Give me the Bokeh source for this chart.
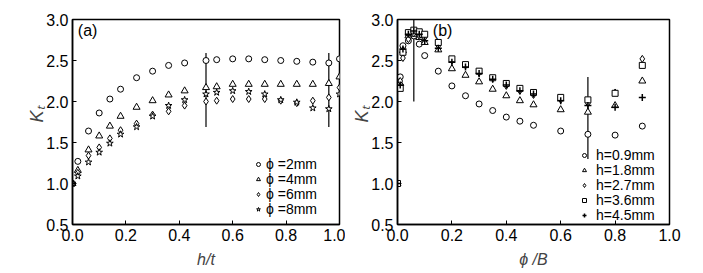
import math
from bokeh.plotting import figure
from bokeh.layouts import row
from bokeh.models import Legend, LegendItem, Label, FixedTicker, NumeralTickFormatter
from bokeh.embed import file_html
from bokeh.resources import INLINE

# ---- panel (a) data ----
ht = [0, 0.02, 0.06, 0.1, 0.14, 0.18, 0.24, 0.3, 0.36, 0.42, 0.5, 0.54, 0.6, 0.66, 0.72, 0.78, 0.84, 0.9, 0.96, 1.0]
kt_phi2 = [1.0, 1.27, 1.64, 1.86, 2.03, 2.15, 2.29, 2.37, 2.44, 2.47, 2.50, 2.51, 2.52, 2.52, 2.51, 2.50, 2.49, 2.48, 2.47, 2.52]
kt_phi4 = [1.0, 1.16, 1.41, 1.58, 1.70, 1.82, 1.93, 2.01, 2.08, 2.13, 2.17, 2.18, 2.21, 2.21, 2.21, 2.21, 2.21, 2.21, 2.22, 2.30]
kt_phi6 = [1.0, 1.13, 1.34, 1.44, 1.55, 1.65, 1.73, 1.84, 1.88, 1.95, 2.00, 2.01, 2.03, 2.03, 2.03, 2.01, 1.98, 2.01, 2.05, 2.17]
kt_phi8 = [1.0, 1.09, 1.26, 1.38, 1.49, 1.60, 1.69, 1.82, 1.95, 2.02, 2.09, 2.11, 2.13, 2.12, 2.09, 2.02, 1.99, 1.92, 1.91, 2.09]
labels_a = ["\u03d5 =2mm", "\u03d5 =4mm", "\u03d5 =6mm", "\u03d5 =8mm"]
bar_a_x = [0.5, 0.96]
bar_a_lo = [1.69, 1.69]
bar_a_hi = [2.59, 2.59]

# ---- panel (b) data ----
pb = [0, 0.01, 0.02, 0.04, 0.06, 0.08, 0.1, 0.15, 0.2, 0.25, 0.3, 0.35, 0.4, 0.45, 0.5, 0.6, 0.7, 0.8, 0.9]
kt_h09 = [1.0, 2.30, 2.68, 2.74, 2.80, 2.70, 2.56, 2.37, 2.19, 2.07, 1.97, 1.89, 1.81, 1.76, 1.71, 1.64, 1.60, 1.59, 1.70]
kt_h18 = [1.0, 2.22, 2.62, 2.80, 2.82, 2.78, 2.72, 2.63, 2.40, 2.32, 2.24, 2.15, 2.07, 2.01, 1.96, 1.90, 1.87, 1.95, 2.25]
kt_h27 = [1.0, 2.25, 2.53, 2.76, 2.83, 2.80, 2.78, 2.68, 2.50, 2.44, 2.35, 2.28, 2.19, 2.13, 2.08, 2.02, 1.98, 2.11, 2.52]
kt_h36 = [1.0, 2.16, 2.60, 2.84, 2.87, 2.85, 2.82, 2.72, 2.52, 2.45, 2.37, 2.29, 2.22, 2.16, 2.11, 2.05, 2.02, 2.10, 2.44]
kt_h45 = [1.0, 2.20, 2.64, 2.82, 2.86, 2.82, 2.74, 2.65, 2.48, 2.42, 2.34, 2.27, 2.20, 2.13, 2.09, 2.01, 1.95, 1.93, 2.05]
labels_b = ["h=0.9mm", "h=1.8mm", "h=2.7mm", "h=3.6mm", "h=4.5mm"]
bar_b_x = [0.06, 0.7]
bar_b_lo = [2.0, 1.3]
bar_b_hi = [3.0, 2.3]

x_ticks = [0.0, 0.2, 0.4, 0.6, 0.8, 1.0]
y_ticks = [0.5, 1.0, 1.5, 2.0, 2.5, 3.0]

FONT = "Liberation Sans"
NB = "\u00a0"


def make_fig(width, left, right, xlabel):
    p = figure(width=width, height=273, x_range=(0, 1), y_range=(0.5, 3.0),
               output_backend="svg", toolbar_location=None,
               min_border_left=left, min_border_right=right,
               min_border_top=19, min_border_bottom=49)
    p.xgrid.visible = False
    p.ygrid.visible = False
    p.outline_line_color = "black"
    p.outline_line_width = 1.5
    p.background_fill_color = "white"
    p.border_fill_color = "white"
    for ax in (p.xaxis[0], p.yaxis[0]):
        ax.axis_line_color = "black"
        ax.axis_line_width = 1.5
        ax.major_tick_in = 4
        ax.major_tick_out = 0
        ax.major_tick_line_color = "black"
        ax.minor_tick_line_color = None
        ax.major_label_text_font = FONT
        ax.major_label_text_font_size = "16px"
        ax.major_label_text_color = "black"
        ax.formatter = NumeralTickFormatter(format="0.0")
    p.xaxis[0].ticker = FixedTicker(ticks=x_ticks)
    p.yaxis[0].ticker = FixedTicker(ticks=y_ticks)
    p.xaxis[0].major_label_standoff = 4
    p.yaxis[0].major_label_standoff = 4
    p.xaxis[0].axis_label = xlabel
    p.xaxis[0].axis_label_text_font = FONT
    p.xaxis[0].axis_label_text_font_size = "16px"
    p.xaxis[0].axis_label_text_font_style = "italic"
    p.xaxis[0].axis_label_standoff = 7
    p.yaxis[0].axis_label = NB * 3 + "K\u209c"
    p.yaxis[0].axis_label_text_font = FONT
    p.yaxis[0].axis_label_text_font_size = "18px"
    p.yaxis[0].axis_label_text_font_style = "italic"
    p.yaxis[0].axis_label_standoff = -4
    return p


def add_legends(p, labels, renderers, x0, centers, standoff, fsize):
    for lab, r, c in zip(labels, renderers, centers):
        leg = Legend(items=[LegendItem(label=lab, renderers=[r])], location=(x0, c - 8),
                     border_line_alpha=0, background_fill_alpha=0, glyph_width=10,
                     glyph_height=12, label_height=12, label_width=10, spacing=0,
                     padding=0, margin=0, label_standoff=standoff, label_text_font=FONT,
                     label_text_font_size=fsize, label_text_color="black")
        p.add_layout(leg)


st = dict(line_color="black", fill_color="white", line_width=1)

# ---------- panel (a) ----------
p1 = make_fig(345, 72, 6, "h/t")
p1.segment(x0=bar_a_x, y0=bar_a_lo, x1=bar_a_x, y1=bar_a_hi, line_color="black", line_width=1.2)
ra1 = p1.scatter(ht, kt_phi2, marker="circle", size=6, **st)
ra2 = p1.scatter(ht, kt_phi4, marker="triangle", size=7, **st)
ra3 = p1.scatter(ht, kt_phi6, marker="diamond", size=7, **st)
ra4 = p1.scatter(ht, kt_phi8, marker="star", size=7, **st)
add_legends(p1, labels_a, [ra1, ra2, ra3, ra4], 181, [60, 45, 30, 15], 3, "14px")
p1.add_layout(Label(x=0.02, y=2.87, text="(a)", text_font=FONT, text_font_size="16px",
                    text_baseline="middle", text_color="black"))

# ---------- panel (b) ----------
p2 = make_fig(358, 52, 34, "\u03d5 /B")
p2.segment(x0=bar_b_x, y0=bar_b_lo, x1=bar_b_x, y1=bar_b_hi, line_color="black", line_width=1.2)
rb1 = p2.scatter(pb, kt_h09, marker="circle", size=6, **st)
rb2 = p2.scatter(pb, kt_h18, marker="triangle", size=7, **st)
rb3 = p2.scatter(pb, kt_h27, marker="diamond", size=7, **st)
rb4 = p2.scatter(pb, kt_h36, marker="square", size=6, **st)
rb5 = p2.scatter(pb, kt_h45, marker="cross", size=7, line_color="black", line_width=1.5)
add_legends(p2, labels_b, [rb1, rb2, rb3, rb4, rb5], 182, [69, 54, 39, 24, 9], 7, "14px")
p2.add_layout(Label(x=0.13, y=2.87, text="(b)", text_font=FONT, text_font_size="16px",
                    text_baseline="middle", text_color="black"))

layout = row(p1, p2)
open("out.html", "w").write(file_html(layout, INLINE))
